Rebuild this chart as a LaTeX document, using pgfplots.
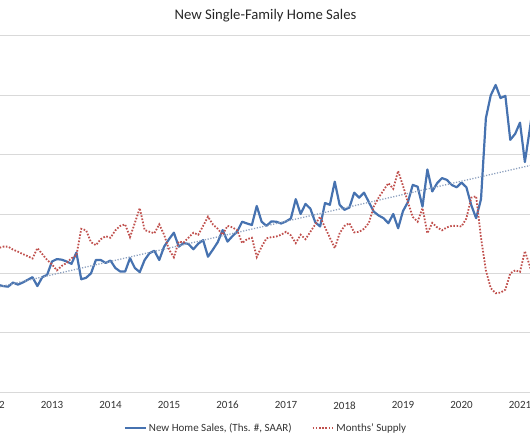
\documentclass[border=0pt]{standalone}
\usepackage{pgfplots}
\pgfplotsset{compat=1.18}
\usepackage{pgfplotstable}
\usepackage{fontspec}
\setmainfont{Carlito}
\definecolor{salesblue}{RGB}{70,114,176}
\definecolor{supplyred}{RGB}{192,80,77}
\definecolor{trendgray}{RGB}{140,160,190}
\definecolor{gridgray}{RGB}{217,217,217}

% m = months since Jan 2012
\pgfplotstableread{
m sales supply
0 352 4.80
1 361 4.85
2 357 4.90
3 355 4.90
4 369 4.80
5 362 4.73
6 369 4.65
7 378 4.58
8 387 4.50
9 357 4.85
10 387 4.65
11 395 4.45
12 440 4.30
13 448 4.10
14 446 4.25
15 440 4.35
16 432 4.51
17 470 4.60
18 380 5.50
19 385 5.45
20 400 5.05
21 445 4.95
22 445 5.15
23 435 5.25
24 443 5.20
25 418 5.45
26 406 5.60
27 406 5.65
28 451 5.22
29 418 5.70
30 404 6.20
31 445 5.46
32 468 5.40
33 476 5.35
34 445 5.65
35 490 5.30
36 515 4.80
37 537 4.54
38 490 5.07
39 502 5.04
40 499 5.20
41 481 5.37
42 500 5.30
43 512 5.60
44 456 5.91
45 480 5.65
46 505 5.50
47 546 5.30
48 507 5.60
49 525 5.55
50 541 5.45
51 574 5.02
52 568 5.15
53 563 5.20
54 627 4.55
55 574 4.90
56 560 5.18
57 575 5.22
58 574 5.24
59 568 5.30
60 575 5.40
61 585 5.28
62 650 5.02
63 600 5.30
64 634 5.15
65 618 5.40
66 572 5.65
67 558 5.91
68 637 5.55
69 631 5.20
70 709 4.85
71 631 5.35
72 614 5.60
73 622 5.69
74 672 5.38
75 655 5.40
76 672 5.50
77 640 5.70
78 608 6.25
79 595 6.55
80 586 6.80
81 569 7.04
82 600 6.85
83 552 7.45
84 610 6.95
85 640 6.40
86 698 5.90
87 692 5.74
88 625 6.20
89 750 5.35
90 676 5.70
91 704 5.55
92 721 5.45
93 715 5.55
94 698 5.60
95 690 5.60
96 706 5.58
97 690 5.85
98 630 6.55
99 586 6.60
100 650 5.20
101 923 4.10
102 1000 3.50
103 1035 3.33
104 991 3.35
105 998 3.45
106 850 4.00
107 870 4.10
108 908 4.05
109 775 4.75
110 885 4.25
111 1000 3.70
}\datatable

\begin{document}
\begin{tikzpicture}
\begin{axis}[
  at={(0pt,0pt)}, anchor=south west,
  scale only axis,
  width=667.875pt, height=356pt,
  xmin=-12, xmax=125,
  ymin=0, ymax=1200,
  axis line style={draw=none},
  ytick={0,200,...,1200},
  yticklabels={},
  ymajorgrids,
  grid style={gridgray, line width=1pt},
  major tick length=0pt,
  xtick={0,12,...,108},
  xticklabels={2012,2013,2014,2015,2016,2017,2018,2019,2020,2021},
  xticklabel style={font=\fontsize{11}{13}\selectfont, text=black!80},
  xticklabel shift=6pt,
  /pgf/number format/assume math mode=true,
  legend columns=2,
  legend style={draw=none, fill=none, at={(0.4956,-0.101)}, anchor=center,
    font=\fontsize{11}{13}\selectfont, text=black!80,
    /tikz/every even column/.append style={column sep=18pt}},
  legend image code/.code={\draw[#1] (0pt,0pt) -- (21pt,0pt);},
]
\addplot[salesblue, line width=2.2pt, line join=round] table[x=m, y=sales] {\datatable};
\addlegendentry{New Home Sales, (Ths. \#, SAAR)}
\addlegendimage{supplyred, line width=1.8pt, dash pattern=on 1.6pt off 1.6pt}
\addlegendentry{Months' Supply}
\addplot[trendgray, line width=1.3pt, dash pattern=on 1.2pt off 1.6pt, forget plot] coordinates {(-2,342.5) (111,767)};
\end{axis}
\begin{axis}[
  at={(0pt,0pt)}, anchor=south west,
  scale only axis,
  width=667.875pt, height=356pt,
  xmin=-12, xmax=125,
  ymin=0, ymax=12,
  axis lines=none,
]
\addplot[supplyred, line width=1.8pt, dash pattern=on 1.6pt off 1.6pt] table[x=m, y=supply] {\datatable};
\end{axis}
\node[font=\fontsize{14.7}{17}\selectfont, text=black!85] at (330.5pt,376pt) {New Single-Family Home Sales};
\pgfresetboundingbox
\path[use as bounding box] (65pt,-50pt) rectangle (595pt,392pt);
\end{tikzpicture}
\end{document}
